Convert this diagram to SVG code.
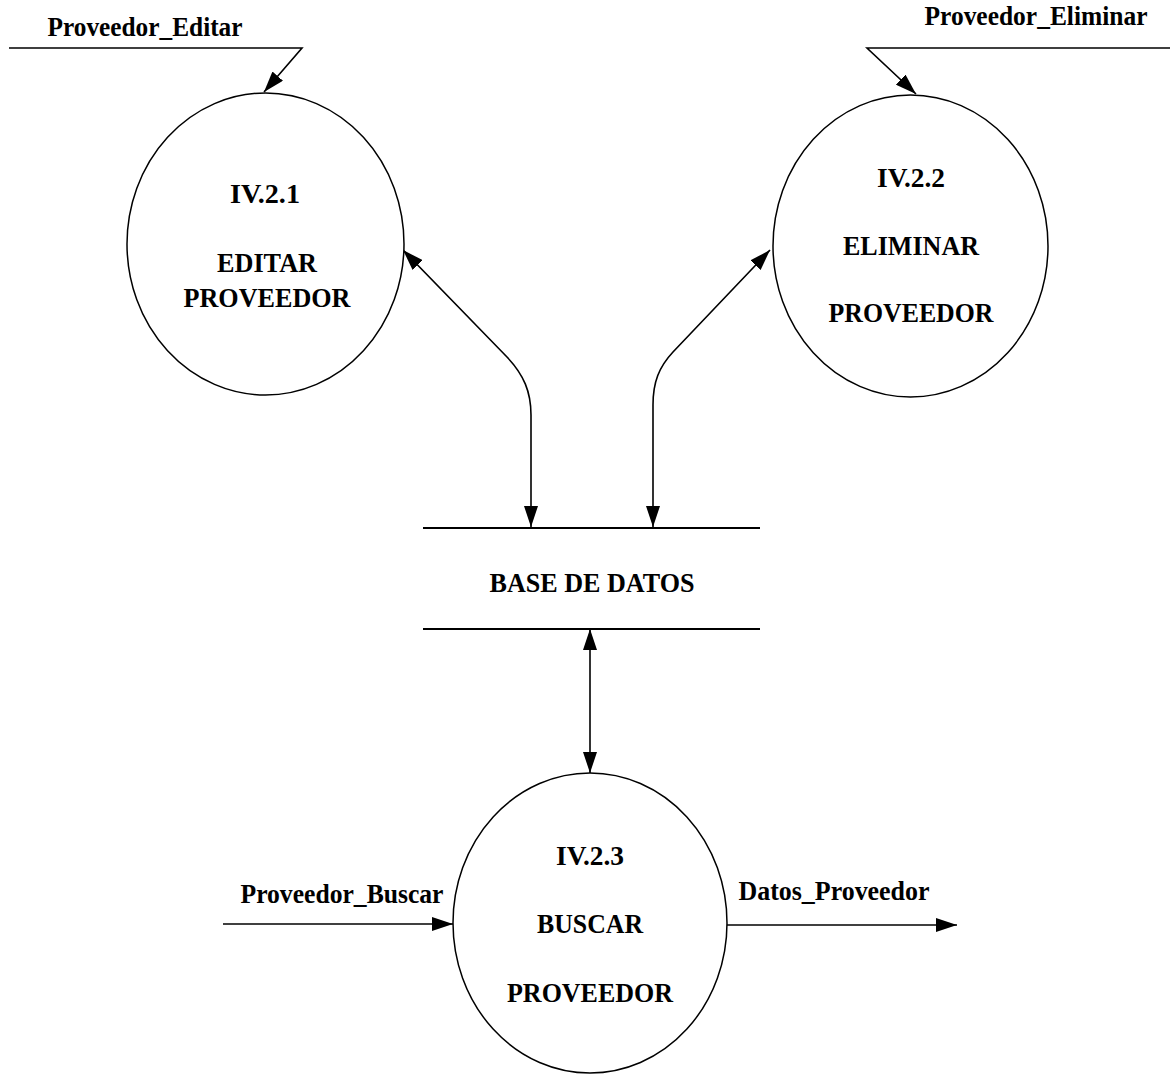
<svg xmlns="http://www.w3.org/2000/svg" width="1170" height="1074" viewBox="0 0 1170 1074">
  <style>
    .proc { fill: #fff; stroke: #000; stroke-width: 1.5; }
    .lbl { font-family: "Liberation Serif", "Times New Roman", serif; font-weight: bold; font-size: 28px; fill: #000; text-anchor: middle; }
    .flow { fill: none; stroke: #000; stroke-width: 1.6; }
    .store { stroke: #000; stroke-width: 1.8; }
  </style>
  <defs>
    <marker id="arrow" markerWidth="21" markerHeight="14" refX="21" refY="7" orient="auto-start-reverse" markerUnits="userSpaceOnUse">
      <path d="M0,0 L21,7 L0,14 Z" fill="#000"/>
    </marker>
  </defs>

  <rect width="1170" height="1074" fill="#fff"/>

  <!-- data flows -->
  <g id="connectors">
    <!-- external input: Proveedor_Editar -->
    <polyline class="flow" points="9,48 302,48 264,92" marker-end="url(#arrow)"/>
    <text class="lbl" x="145" y="36" textLength="195" lengthAdjust="spacingAndGlyphs">Proveedor_Editar</text>

    <!-- external input: Proveedor_Eliminar -->
    <polyline class="flow" points="1170,48 867,48 916,94" marker-end="url(#arrow)"/>
    <text class="lbl" x="1036" y="25" textLength="223" lengthAdjust="spacingAndGlyphs">Proveedor_Eliminar</text>

    <!-- EDITAR <-> BASE DE DATOS -->
    <path class="flow" d="M403,250 L507,357 C524,375 531,392 531,415 L531,527" marker-start="url(#arrow)" marker-end="url(#arrow)"/>

    <!-- ELIMINAR <-> BASE DE DATOS -->
    <path class="flow" d="M770,250 L673,352 C659,367 653,382 653,405 L653,527" marker-start="url(#arrow)" marker-end="url(#arrow)"/>

    <!-- BASE DE DATOS <-> BUSCAR -->
    <line class="flow" x1="590" y1="629" x2="590" y2="773" marker-start="url(#arrow)" marker-end="url(#arrow)"/>

    <!-- Proveedor_Buscar input -->
    <line class="flow" x1="223" y1="924" x2="453" y2="924" marker-end="url(#arrow)"/>
    <text class="lbl" x="342" y="903" textLength="203" lengthAdjust="spacingAndGlyphs">Proveedor_Buscar</text>

    <!-- Datos_Proveedor output -->
    <line class="flow" x1="727" y1="925" x2="957" y2="925" marker-end="url(#arrow)"/>
    <text class="lbl" x="834" y="900" textLength="191" lengthAdjust="spacingAndGlyphs">Datos_Proveedor</text>
  </g>

  <!-- process IV.2.1 -->
  <g id="proc-editar">
    <ellipse class="proc" cx="265.5" cy="244" rx="138.5" ry="151"/>
    <text class="lbl" x="265" y="203" textLength="70" lengthAdjust="spacingAndGlyphs">IV.2.1</text>
    <text class="lbl" x="267" y="272" textLength="100" lengthAdjust="spacingAndGlyphs">EDITAR</text>
    <text class="lbl" x="267" y="307" textLength="167" lengthAdjust="spacingAndGlyphs">PROVEEDOR</text>
  </g>

  <!-- process IV.2.2 -->
  <g id="proc-eliminar">
    <ellipse class="proc" cx="910.5" cy="246" rx="137.5" ry="151"/>
    <text class="lbl" x="911" y="187" textLength="68" lengthAdjust="spacingAndGlyphs">IV.2.2</text>
    <text class="lbl" x="911" y="255" textLength="136" lengthAdjust="spacingAndGlyphs">ELIMINAR</text>
    <text class="lbl" x="911" y="322" textLength="165" lengthAdjust="spacingAndGlyphs">PROVEEDOR</text>
  </g>

  <!-- data store -->
  <g id="store-bd">
    <line class="store" x1="423" y1="528" x2="760" y2="528"/>
    <line class="store" x1="423" y1="629" x2="760" y2="629"/>
    <text class="lbl" x="592" y="592" textLength="205" lengthAdjust="spacingAndGlyphs">BASE DE DATOS</text>
  </g>

  <!-- process IV.2.3 -->
  <g id="proc-buscar">
    <ellipse class="proc" cx="590" cy="923" rx="137" ry="150"/>
    <text class="lbl" x="590" y="865" textLength="68" lengthAdjust="spacingAndGlyphs">IV.2.3</text>
    <text class="lbl" x="590" y="933" textLength="106" lengthAdjust="spacingAndGlyphs">BUSCAR</text>
    <text class="lbl" x="590" y="1002" textLength="166" lengthAdjust="spacingAndGlyphs">PROVEEDOR</text>
  </g>
</svg>
